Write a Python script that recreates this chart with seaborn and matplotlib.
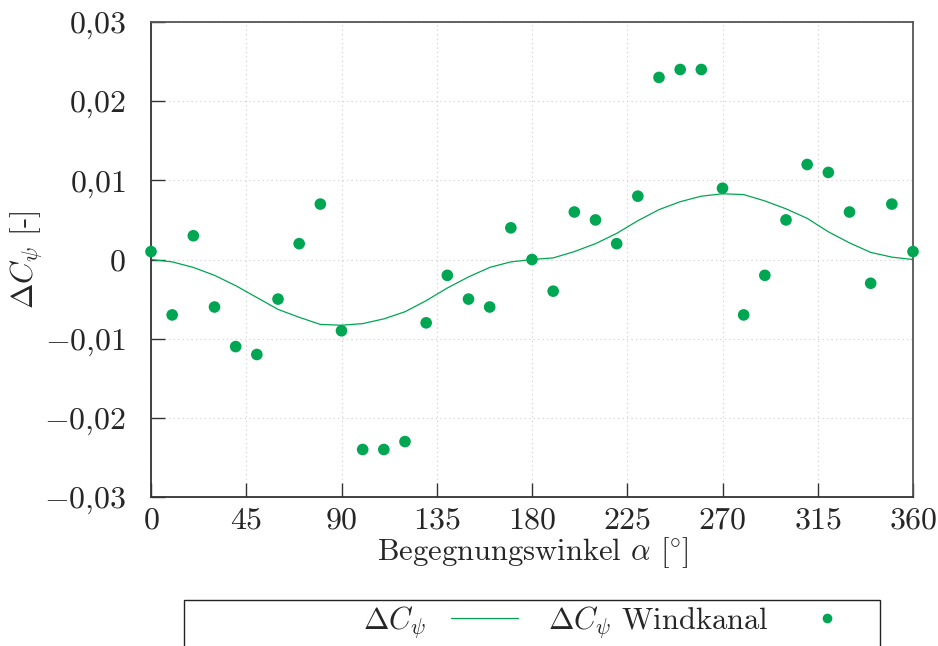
import matplotlib
matplotlib.use("Agg")
import matplotlib.pyplot as plt
import seaborn as sns
import pandas as pd
from matplotlib.ticker import FixedLocator, FuncFormatter
from matplotlib.patches import Rectangle
from matplotlib.lines import Line2D

# ---- data ----
angles = list(range(0, 361, 10))
dc_line = [0, -0.0003, -0.001, -0.002, -0.0033, -0.0048, -0.0063, -0.0073, -0.0082, -0.0083,
           -0.0081, -0.0075, -0.0066, -0.0052, -0.0036, -0.0022, -0.001, -0.0003, 0, 0.0002,
           0.001, 0.002, 0.0033, 0.0049, 0.0063, 0.0073, 0.008, 0.0083, 0.0082, 0.0074,
           0.0064, 0.0052, 0.0035, 0.0021, 0.0009, 0.0003, 0]
dc_wind = [0.001, -0.007, 0.003, -0.006, -0.011, -0.012, -0.005, 0.002, 0.007, -0.009,
           -0.024, -0.024, -0.023, -0.008, -0.002, -0.005, -0.006, 0.004, 0.0, -0.004,
           0.006, 0.005, 0.002, 0.008, 0.023, 0.024, 0.024, 0.009, -0.007, -0.002,
           0.005, 0.012, 0.011, 0.006, -0.003, 0.007, 0.001]
x_ticks = [0, 45, 90, 135, 180, 225, 270, 315, 360]
y_ticks = [-0.03, -0.02, -0.01, 0, 0.01, 0.02, 0.03]

df = pd.DataFrame({"alpha": angles, "line": dc_line, "wind": dc_wind})

sns.set_theme(style="white")
plt.rcParams["font.family"] = ["cmr10", "DejaVu Serif"]
plt.rcParams["mathtext.fontset"] = "cm"
plt.rcParams["axes.unicode_minus"] = False

green = "#00a651"

fig = plt.figure(figsize=(9.38, 6.46), dpi=100)
ax = fig.add_axes([151/938, 1-497/646, (913-151)/938, (497-22)/646])

sns.lineplot(data=df, x="alpha", y="line", ax=ax, color=green, linewidth=0.9, legend=False)
sns.scatterplot(data=df, x="alpha", y="wind", ax=ax, color=green, s=70, edgecolor="none",
                legend=False, zorder=3, clip_on=False)

ax.set_xlim(0, 360)
ax.set_ylim(-0.03, 0.03)
ax.xaxis.set_major_locator(FixedLocator(x_ticks))
ax.yaxis.set_major_locator(FixedLocator(y_ticks))

def yfmt(v, pos):
    if abs(v) < 1e-12:
        return r"$0$"
    s = f"{v:.2f}".replace(".", "{,}")
    return "$" + s + "$"

ax.yaxis.set_major_formatter(FuncFormatter(yfmt))
ax.xaxis.set_major_formatter(FuncFormatter(lambda v, p: f"${int(v)}$"))

ax.grid(True, linestyle=(0, (1, 3)), color="#cccccc", linewidth=0.8)
ax.tick_params(axis="both", which="major", direction="in", length=10, width=1.0,
               color="#333333", labelsize=23, top=False, right=False,
               bottom=True, left=True)
ax.tick_params(axis="y", pad=18)
ax.tick_params(axis="x", pad=7)
for sp in ax.spines.values():
    sp.set_color("#333333")
    sp.set_linewidth(1.3)
ax.spines["right"].set_color("#555555")
ax.spines["top"].set_color("#555555")

ax.set_xlabel(r"Begegnungswinkel $\alpha$ $[\!{}^\circ\!]$", fontsize=22, labelpad=1)
ax.set_ylabel(r"$\Delta C_\psi$ [-]", fontsize=22, labelpad=0)

# legend frame (extends below the figure like the reference)
rect = Rectangle((184/938, -0.05), (880-184)/938, (646-600)/646 + 0.05,
                 transform=fig.transFigure, fill=False, edgecolor="#222222",
                 linewidth=1.0, clip_on=False)
fig.patches.append(rect)

handles = [Line2D([], [], color=green, linewidth=0.9),
           Line2D([], [], color=green, marker="o", linestyle="none", markersize=7,
                  markeredgecolor="none")]
labels = [r"$\Delta C_\psi$", r"$\Delta C_\psi$ Windkanal"]
fig.legend(handles, labels, loc="center", bbox_to_anchor=(612/938, (646-622)/646),
           ncol=2, frameon=False, markerfirst=False, fontsize=22, handlelength=2.2,
           columnspacing=1.0, handletextpad=0.8)

fig.savefig("out.png", dpi=100)
